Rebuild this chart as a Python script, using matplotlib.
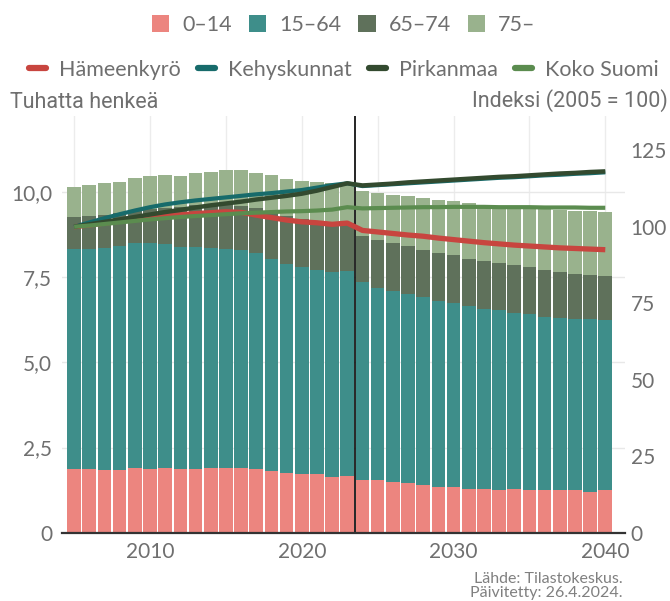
import matplotlib
matplotlib.use("Agg")
import matplotlib.pyplot as plt
from matplotlib.patches import Patch
from matplotlib.lines import Line2D
import numpy as np

plt.rcParams["font.family"] = ["Lato", "DejaVu Sans"]

years = list(range(2005, 2041))

# thousands of people per age group
age_0_14 = [1.86, 1.86, 1.83, 1.83, 1.89, 1.86, 1.89, 1.86, 1.86, 1.89, 1.89, 1.89,
            1.86, 1.80, 1.74, 1.71, 1.71, 1.65, 1.68, 1.56, 1.54, 1.48, 1.45, 1.39,
            1.33, 1.33, 1.27, 1.27, 1.24, 1.27, 1.24, 1.24, 1.24, 1.24, 1.21, 1.24]
age_15_64 = [6.48, 6.48, 6.53, 6.59, 6.61, 6.64, 6.58, 6.53, 6.53, 6.47, 6.45, 6.41,
             6.36, 6.23, 6.14, 6.10, 6.01, 6.00, 6.00, 5.79, 5.66, 5.61, 5.55, 5.52,
             5.49, 5.43, 5.40, 5.31, 5.29, 5.17, 5.17, 5.11, 5.08, 5.05, 5.08, 5.02]
age_65_74 = [0.93, 0.97, 0.98, 0.97, 0.95, 1.00, 1.08, 1.19, 1.24, 1.29, 1.32, 1.31,
             1.32, 1.38, 1.43, 1.40, 1.44, 1.46, 1.43, 1.36, 1.39, 1.41, 1.42, 1.39,
             1.39, 1.39, 1.36, 1.39, 1.38, 1.41, 1.39, 1.36, 1.33, 1.30, 1.27, 1.27]
age_75 = [0.89, 0.91, 0.93, 0.91, 0.97, 0.98, 0.96, 0.90, 0.94, 0.95, 1.00, 1.05,
          1.03, 1.10, 1.08, 1.12, 1.14, 1.16, 1.17, 1.33, 1.39, 1.42, 1.47, 1.53,
          1.56, 1.59, 1.66, 1.67, 1.69, 1.72, 1.74, 1.80, 1.83, 1.86, 1.89, 1.89]

# index 2005 = 100
hameenkyro = [100, 100.6, 101.2, 101.8, 102.4, 103.0, 103.5, 103.9, 104.3, 104.6, 104.9, 104.7,
              103.8, 103.0, 102.2, 101.6, 101.3, 100.8, 101.2, 98.8, 98.3, 97.8, 97.3, 96.9,
              96.3, 95.8, 95.3, 94.8, 94.4, 94.0, 93.7, 93.4, 93.1, 92.9, 92.7, 92.5]
kehyskunnat = [100, 101.4, 102.8, 104.1, 105.3, 106.4, 107.3, 108.0, 108.6, 109.1, 109.6, 110.1,
               110.6, 111.0, 111.5, 112.0, 112.8, 113.6, 114.2, 113.3, 113.6, 113.9, 114.2, 114.5,
               114.8, 115.1, 115.4, 115.7, 116.0, 116.2, 116.5, 116.8, 117.0, 117.3, 117.5, 117.8]
pirkanmaa = [100, 100.8, 101.6, 102.4, 103.2, 104.0, 104.8, 105.5, 106.3, 107.0, 107.6, 108.2,
             108.9, 109.5, 110.1, 110.8, 111.8, 113.0, 114.2, 113.5, 113.8, 114.1, 114.5, 114.8,
             115.1, 115.4, 115.7, 116.0, 116.3, 116.5, 116.8, 117.1, 117.4, 117.6, 117.9, 118.1]
koko_suomi = [100, 100.4, 100.9, 101.4, 101.9, 102.4, 102.8, 103.2, 103.5, 103.8, 104.1, 104.4,
              104.6, 104.8, 105.0, 105.1, 105.3, 105.6, 106.4, 106.0, 106.1, 106.2, 106.3, 106.4,
              106.4, 106.5, 106.5, 106.5, 106.4, 106.4, 106.4, 106.3, 106.3, 106.3, 106.2, 106.2]

group_names = ["0–14", "15–64", "65–74", "75–"]
group_colors = ["#ec857f", "#3e8e8a", "#5f715b", "#99b28d"]
line_names = ["Hämeenkyrö", "Kehyskunnat", "Pirkanmaa", "Koko Suomi"]
line_colors = ["#c8453f", "#176b6b", "#334a2f", "#5b8c4f"]

grey = "#6f6f6f"

fig = plt.figure(figsize=(6.7, 6.01), dpi=100)
ax = fig.add_axes([62/670, 1 - 532.7/601, (625 - 62)/670, (532.7 - 116)/601])

bottom = np.zeros(len(years))
for vals, col in zip([age_0_14, age_15_64, age_65_74, age_75], group_colors):
    ax.bar(years, vals, bottom=bottom, width=0.9, color=col, zorder=2)
    bottom += np.array(vals)

ax.axvline(2023.5, color="black", lw=1.2, zorder=3)

ax.set_xlim(2004.2, 2041.3)
ax.set_ylim(0, 12.24)
ax.set_yticks([0, 2.5, 5, 7.5, 10])
ax.set_yticklabels(["0", "2,5", "5,0", "7,5", "10,0"])
ax.set_xticks([2010, 2020, 2030, 2040])
ax.set_xticks(range(2005, 2041, 5), minor=True)
ax.grid(axis="y", color="#e8e8e8", lw=1, zorder=0)
ax.grid(axis="x", which="both", color="#ececec", lw=1, zorder=0)
ax.set_axisbelow(True)
ax.tick_params(axis="y", length=0, pad=7, labelsize=15, labelcolor=grey)
ax.tick_params(axis="x", which="both", length=0, pad=7, labelsize=15, labelcolor=grey)
for s in ["top", "left", "right"]:
    ax.spines[s].set_visible(False)
ax.spines["bottom"].set_color("#333333")
ax.spines["bottom"].set_linewidth(1.6)
ax.spines["bottom"].set_zorder(4)

ax2 = ax.twinx()
ax2.set_ylim(0, 136.2)
ax2.set_yticks([0, 25, 50, 75, 100, 125])
ax2.tick_params(axis="y", length=0, pad=4, labelsize=15, labelcolor=grey)
for s in ax2.spines.values():
    s.set_visible(False)

widths = [3.8, 3.0, 3.2, 3.0]
for vals, col, lw in zip([hameenkyro, kehyskunnat, pirkanmaa, koko_suomi], line_colors, widths):
    ax2.plot(years, vals, color=col, lw=lw, solid_capstyle="butt", solid_joinstyle="round")

fig.text(10/670, 1 - 102/601, "Tuhatta henkeä", family="Roboto",
         fontsize=15.5, color=grey, ha="left", va="center")
fig.text(668/670, 1 - 101/601, "Indeksi (2005 = 100)", family="Roboto",
         fontsize=15.5, color=grey, ha="right", va="center")

bar_handles = [Patch(facecolor=c, edgecolor="none") for c in group_colors]
leg1 = fig.legend(bar_handles, group_names, loc="center", bbox_to_anchor=(0.513, 1 - 25/601),
                  ncol=4, frameon=False, fontsize=15.5, handlelength=0.8, handleheight=0.8,
                  handletextpad=0.6, columnspacing=0.8, labelcolor=grey)

line_handles = [Line2D([0], [0], color=c, lw=4.5, solid_capstyle="round") for c in line_colors]
leg2 = fig.legend(line_handles, line_names, loc="center", bbox_to_anchor=(0.513, 1 - 70/601),
                  ncol=4, frameon=False, fontsize=15.5, handlelength=0.8,
                  handletextpad=0.6, columnspacing=0.8, labelcolor=grey)

fig.text(623/670, 1 - 586/601, "Lähde: Tilastokeskus.\nPäivitetty: 26.4.2024.",
         fontsize=11.5, color="#808080", ha="right", va="center", linespacing=1.05)

fig.savefig("out.png", dpi=100)
